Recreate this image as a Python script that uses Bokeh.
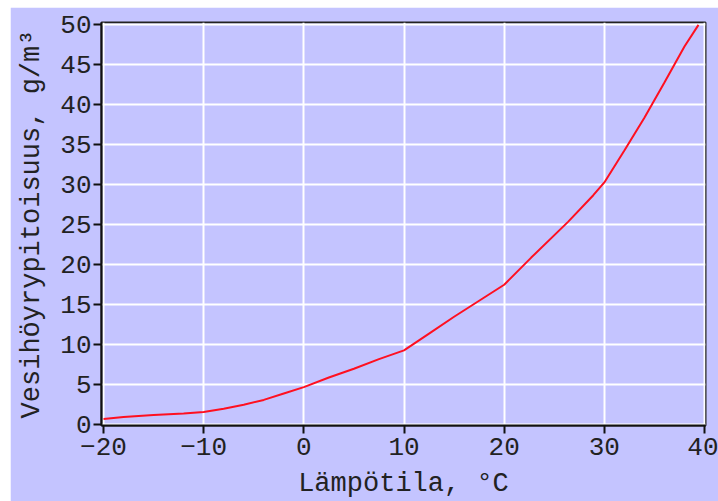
from bokeh.plotting import figure
from bokeh.models import Range1d, FixedTicker
from bokeh.embed import file_html
from bokeh.resources import INLINE

# Data
temperature = [-20, -18, -15, -12, -10, -8, -6, -4, -2, 0, 2.5, 5, 7.5, 10,
               12.5, 15, 17.5, 20, 22.7, 26.4, 28.9, 30, 32, 34, 36, 38, 39.4]
vapour = [0.7, 0.95, 1.2, 1.4, 1.6, 2.0, 2.5, 3.1, 3.9, 4.7, 5.9, 7.0, 8.2, 9.3,
          11.4, 13.5, 15.5, 17.5, 20.9, 25.4, 28.7, 30.3, 34.3, 38.4, 42.8, 47.3, 50.0]
x_ticks = [-20, -10, 0, 10, 20, 30, 40]
y_ticks = [0, 5, 10, 15, 20, 25, 30, 35, 40, 45, 50]
x_label = "Lämpötila, °C"
y_label = "Vesihöyrypitoisuus, g/m³"

BG = "#c4c4ff"
FONT = "Liberation Mono"
TXT = "#222222"

p = figure(width=708, height=494, output_backend="svg", toolbar_location=None,
           margin=(7, 0, 0, 10),
           x_range=Range1d(-20.2, 40.1), y_range=Range1d(-0.1, 50.3),
           min_border_left=91, min_border_right=13, min_border_top=15,
           min_border_bottom=75)
p.background_fill_color = BG
p.border_fill_color = BG
p.outline_line_color = "#222222"
p.outline_line_width = 2

p.xaxis.ticker = FixedTicker(ticks=x_ticks)
p.yaxis.ticker = FixedTicker(ticks=y_ticks)
for ax in (p.xaxis[0], p.yaxis[0]):
    ax.axis_line_color = "#111111"
    ax.axis_line_width = 2
    ax.major_tick_line_color = "#111111"
    ax.major_tick_line_width = 2
    ax.major_tick_out = 8
    ax.major_tick_in = 0
    ax.minor_tick_line_color = None
    ax.major_label_text_font = FONT
    ax.major_label_text_font_size = "26px"
    ax.major_label_text_color = TXT
    ax.axis_label_text_font = FONT
    ax.axis_label_text_font_size = "27px"
    ax.axis_label_text_font_style = "normal"
    ax.axis_label_text_color = TXT

p.xaxis.axis_label = x_label
p.yaxis.axis_label = y_label
p.yaxis.major_label_standoff = 2
p.xaxis.major_label_standoff = 4
p.xaxis.axis_label_standoff = 11
p.yaxis.axis_label_standoff = 10

p.grid.grid_line_color = "white"
p.grid.grid_line_width = 2
p.xgrid.ticker = FixedTicker(ticks=x_ticks)
p.ygrid.ticker = FixedTicker(ticks=y_ticks)

p.line(temperature, vapour, line_color="#ff1020", line_width=2)

open("out.html", "w").write(file_html(p, INLINE))
